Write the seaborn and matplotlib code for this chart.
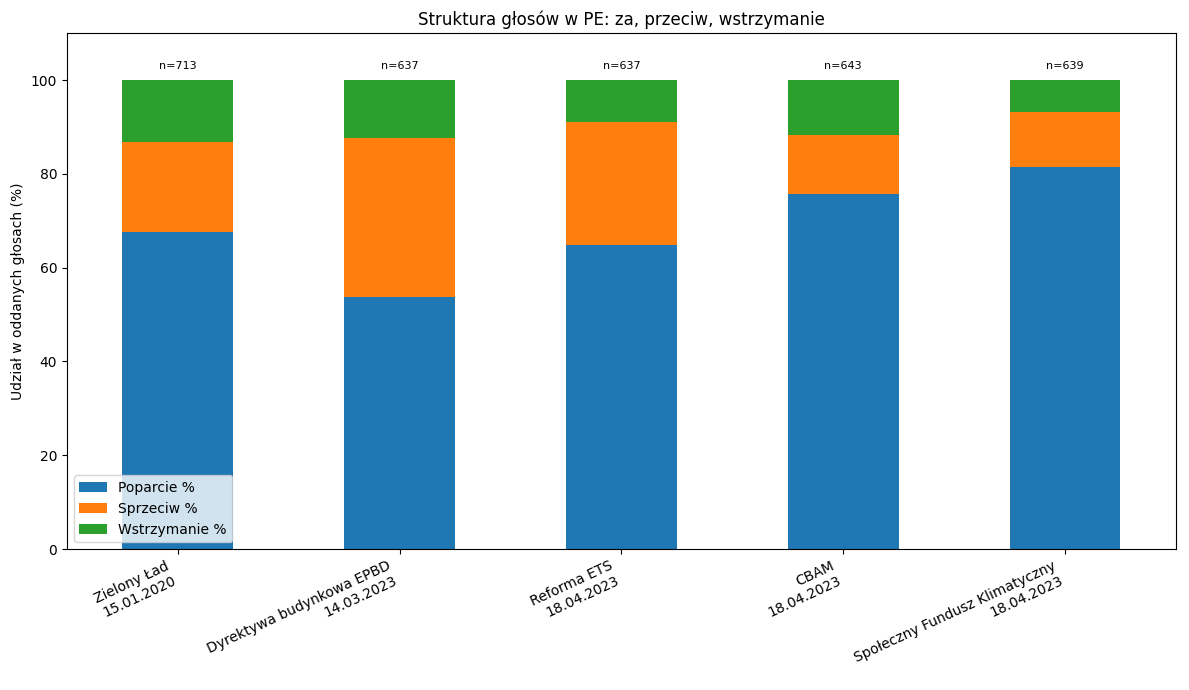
import matplotlib
matplotlib.use('Agg')
import matplotlib.pyplot as plt
import numpy as np
import pandas as pd
import seaborn as sns

# dane: udzial glosow w PE (%)
glosowania = ['Zielony Ład\n15.01.2020', 'Dyrektywa budynkowa EPBD\n14.03.2023',
              'Reforma ETS\n18.04.2023', 'CBAM\n18.04.2023',
              'Społeczny Fundusz Klimatyczny\n18.04.2023']
poparcie = [67.6, 53.8, 64.8, 75.7, 81.5]
sprzeciw = [19.1, 33.9, 26.2, 12.6, 11.7]
wstrzymanie = [13.3, 12.3, 9.0, 11.7, 6.8]
n_glosow = [713, 637, 637, 643, 639]

df = pd.DataFrame({'glosowanie': glosowania, 'Poparcie %': poparcie,
                   'Sprzeciw %': sprzeciw, 'Wstrzymanie %': wstrzymanie})

kolory = ['#1f77b4', '#ff7f0e', '#2ca02c']
serie = ['Poparcie %', 'Sprzeciw %', 'Wstrzymanie %']

fig, ax = plt.subplots(figsize=(11.89, 6.9), dpi=100)

# slupki skumulowane - kazda seria od dolu poprzedniej
dol = np.zeros(len(df))
for s, k in zip(serie, kolory):
    sns.barplot(data=df, x='glosowanie', y=s, color=k, width=0.5,
                bottom=dol, label=s, ax=ax, saturation=1)
    dol = dol + df[s].values

# liczba oddanych glosow nad slupkiem
for i, n in enumerate(n_glosow):
    ax.text(i, dol[i] + 2, f'n={n}', ha='center', va='bottom', fontsize=8)

ax.set_xlim(-0.5, len(df) - 0.5)
ax.set_ylim(0, 110)
ax.set_title('Struktura głosów w PE: za, przeciw, wstrzymanie')
ax.set_ylabel('Udział w oddanych głosach (%)')
ax.set_xlabel('')
plt.setp(ax.get_xticklabels(), rotation=25, ha='right')
ax.legend(loc='lower left')

fig.subplots_adjust(left=0.0563, right=0.989, top=0.952, bottom=0.2043)
plt.savefig('out.png')
